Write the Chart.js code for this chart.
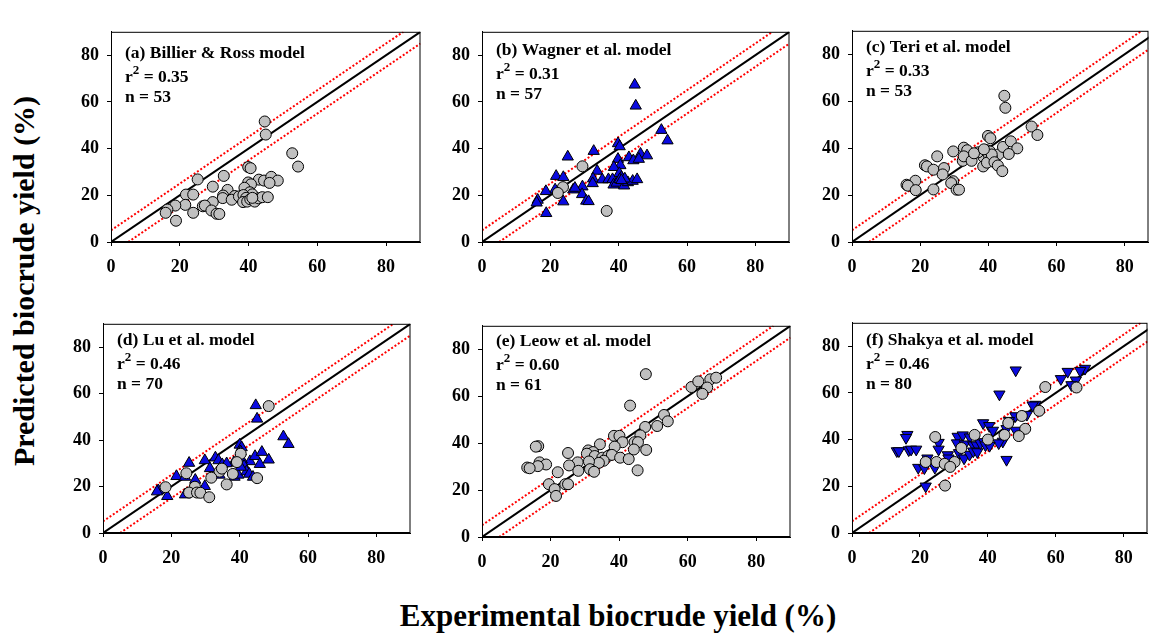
<!DOCTYPE html>
<html>
<head>
<meta charset="utf-8">
<script src="https://cdn.jsdelivr.net/npm/chart.js@4"></script>
<style>
  html, body { margin: 0; padding: 0; background: #fff; overflow: hidden; }
  body { width: 1152px; height: 637px; position: relative; font-family: "Liberation Serif", serif; }
  canvas { position: absolute; }
  .axtitle { position: absolute; font: bold 30px "Liberation Serif", serif; color: #000; white-space: nowrap; }
  #ytitle { left: 24px; top: 281px; transform: translate(-50%, -50%) rotate(-90deg); }
  #xtitle { left: 618px; top: 616px; transform: translate(-50%, -50%); font-size: 31px; }
</style>
</head>
<body>
<div id="ytitle" class="axtitle">Predicted biocrude yield (%)</div>
<div id="xtitle" class="axtitle">Experimental biocrude yield (%)</div>

<script>
// --- DATA ---
const panelTitles = ['(a) Billier & Ross model', '(b) Wagner et al. model', '(c) Teri et al. model',
                     '(d) Lu et al. model', '(e) Leow et al. model', '(f) Shakya et al. model'];
const panelR2 = ['0.35', '0.31', '0.33', '0.46', '0.60', '0.46'];
const panelN = ['53', '57', '53', '70', '61', '80'];
const tickValues = [0, 20, 40, 60, 80];

// reference lines: 1:1 and +/-5 %
const lineOneToOne = [[0, 0], [90, 90]];
const lineUpper = [[0, 5], [85, 90]];
const lineLower = [[5, 0], [90, 85]];

const billierCircles = [[44.7,51.6],[45.0,46.0],[52.7,38.0],[54.4,32.3],[39.9,32.1],[40.6,31.6],[25.2,26.8],[32.8,28.3],
  [43.0,26.7],[44.5,26.3],[46.6,27.9],[48.5,26.3],[46.1,25.3],[39.9,25.5],[40.7,24.7],[29.6,23.7],[33.9,22.3],[38.8,23.2],
  [40.4,21.3],[41.1,20.4],[21.8,20.3],[23.9,20.3],[32.6,19.9],[32.5,18.8],[36.0,19.7],[35.1,18.1],[37.2,19.5],[38.5,20.1],
  [39.3,18.9],[38.4,17.1],[39.6,17.3],[40.5,18.3],[41.8,17.3],[42.9,18.7],[44.0,19.2],[45.6,19.2],[29.6,17.1],[21.6,15.9],
  [18.7,15.6],[26.7,15.3],[27.3,15.6],[16.4,13.9],[15.9,12.5],[23.9,12.5],[29.2,13.5],[30.7,12.1],[31.5,12.0],[18.9,9.1],[41.1,18.9]];

const wagnerTriangles = [[44.7,67.3],[45.0,58.3],[52.5,47.9],[54.3,43.4],[39.8,42.2],[40.3,40.9],[25.1,36.5],[32.7,38.9],
  [43.0,36.2],[44.3,34.9],[46.4,37.7],[48.3,37.0],[45.9,35.5],[39.8,35.5],[40.5,32.8],[29.4,23.7],[33.7,30.4],[38.6,32.0],
  [40.2,29.4],[40.8,27.7],[21.7,28.2],[23.8,27.7],[32.5,27.1],[32.4,25.1],[35.2,26.7],[37.0,26.8],[38.2,26.8],[38.5,24.5],
  [39.4,25.3],[40.3,26.8],[41.6,24.1],[42.7,25.5],[44.1,26.1],[45.4,26.8],[41.8,27.1],[40.8,26.4],[29.3,20.4],[21.4,22.4],
  [18.7,21.7],[26.7,22.4],[27.2,23.1],[16.3,18.0],[16.0,16.8],[23.8,17.3],[30.5,17.6],[31.2,17.4],[18.8,12.3]];
const wagnerCircles = [[29.4,32.4],[23.7,23.5],[22.2,21.0],[36.5,13.3]];

const teriCircles = [[44.7,62.3],[45.0,57.2],[52.7,49.2],[54.4,45.6],[39.9,45.2],[40.6,44.2],[25.0,36.5],[32.8,40.2],
  [43.0,37.3],[44.3,40.5],[46.6,42.9],[48.5,39.9],[46.0,37.5],[39.6,39.1],[40.5,38.6],[29.7,38.6],[33.8,39.1],[38.6,36.2],
  [40.2,36.9],[41.0,36.2],[21.4,32.7],[22.0,32.2],[23.9,30.8],[32.5,34.6],[32.8,36.5],[35.1,34.6],[37.0,38.2],[35.8,37.8],
  [38.5,32.2],[39.6,33.8],[41.0,37.3],[41.8,34.0],[42.8,32.6],[44.1,30.2],[38.7,39.5],[27.0,31.5],[26.6,28.8],[29.7,25.9],
  [29.1,25.1],[23.9,22.4],[18.6,26.1],[16.0,24.4],[16.4,24.0],[18.7,22.1],[30.7,22.3],[31.4,22.3]];

const luTriangles = [[44.7,54.9],[45.1,49.1],[52.8,41.5],[54.3,38.2],[40.0,37.9],[40.6,36.8],[25.2,30.1],[32.9,32.4],
  [43.0,30.8],[44.5,33.0],[46.5,34.8],[48.5,31.5],[45.9,29.6],[40.3,35.0],[29.8,31.2],[33.8,31.2],[38.3,30.3],[40.6,31.6],
  [41.3,28.8],[21.5,24.4],[24.0,24.1],[31.3,27.8],[34.1,25.0],[34.9,29.5],[36.2,29.9],[38.5,24.1],[39.6,25.0],[42.0,26.4],
  [42.8,25.4],[43.9,24.1],[27.0,22.8],[29.8,20.1],[16.2,18.3],[15.8,17.8],[18.8,15.8],[24.0,16.5],[40.3,28.4]];
const luCircles = [[48.5,54.6],[40.3,34.1],[39.2,30.5],[24.4,25.7],[34.1,26.4],[34.8,27.7],[38.0,25.4],[31.7,23.8],
  [45.1,23.6],[36.2,20.9],[18.3,19.7],[26.9,19.9],[25.2,17.4],[27.5,17.4],[28.5,17.3],[31.1,15.4]];

const leowCircles = [[47.8,69.4],[61.1,63.9],[63.1,66.3],[66.6,67.2],[68.3,67.9],[65.7,63.7],[64.3,61.0],[43.2,56.0],
  [53.1,52.0],[54.2,49.3],[51.1,47.3],[47.6,46.9],[46.2,43.3],[38.5,43.1],[40.1,43.1],[41.0,40.4],[44.5,40.4],[45.5,40.4],
  [44.3,37.3],[47.9,37.1],[38.7,38.5],[34.4,39.5],[31.0,36.9],[32.4,36.2],[30.6,35.5],[25.1,35.8],[16.4,38.7],[15.7,38.5],
  [32.9,34.5],[35.1,33.8],[36.8,34.5],[37.9,35.0],[40.3,33.8],[42.8,33.2],[35.5,32.5],[34.1,31.6],[31.2,32.2],[27.9,31.8],
  [25.4,30.5],[16.8,31.8],[18.7,30.9],[16.3,30.2],[13.2,29.6],[13.9,29.3],[31.5,28.9],[28.1,28.2],[32.7,27.8],[22.1,27.6],
  [45.4,28.4],[19.5,22.5],[24.3,22.5],[25.1,22.5],[21.2,20.4],[21.6,17.5]];

const shakyaTriangles = [[48.2,69.7],[68.6,70.4],[67.2,69.5],[63.5,69.1],[61.5,66.0],[65.9,65.4],[64.6,63.4],[43.4,59.4],
  [54.0,55.0],[53.2,54.7],[51.5,50.7],[48.1,50.1],[38.6,47.1],[40.4,45.9],[41.5,43.9],[46.2,48.1],[45.5,44.6],[48.2,43.9],
  [44.4,39.2],[43.2,38.5],[45.5,31.4],[16.3,42.1],[15.9,40.8],[13.2,35.1],[13.8,35.1],[16.7,35.5],[17.4,35.8],[18.9,35.8],
  [25.5,38.7],[25.5,35.8],[19.5,28.0],[21.3,27.8],[24.4,28.0],[21.7,20.0],[22.2,32.0],[28.2,33.4],[28.4,32.0],[31.1,41.3],
  [32.6,41.9],[30.9,38.5],[31.5,34.3],[33.0,32.0],[34.6,33.6],[34.7,41.0],[33.2,38.0],[35.7,37.6],[36.7,37.6],[35.7,35.0],
  [36.9,34.7],[37.8,38.5],[38.9,39.0],[39.3,37.6],[40.5,37.4]];
const shakyaCircles = [[56.9,62.5],[66.1,62.3],[55.1,52.3],[50.0,50.1],[46.0,47.1],[51.0,44.6],[44.9,42.0],[49.1,41.5],
  [36.1,42.0],[24.5,41.1],[40.0,40.0],[32.2,36.4],[21.7,30.4],[24.9,30.4],[27.3,29.6],[30.2,30.4],[28.9,28.3],[27.4,20.3]];

// --- LAYOUT (plot-area rectangles in page px) ---
const panels = [
  { area: [111, 17, 423, 242], xMax: 90, circles: billierCircles, tris: null, titleDy: 22 },
  { area: [482, 17, 793, 242], xMax: 90, circles: wagnerCircles, tris: wagnerTriangles, titleDy: 19 },
  { area: [852, 16, 1151, 242], xMax: 87, circles: teriCircles, tris: null, titleDy: 17 },
  { area: [103, 309, 414, 533], xMax: 90, circles: luCircles, tris: luTriangles, titleDy: 17 },
  { area: [482, 311, 793, 537], xMax: 90, circles: leowCircles, tris: null, titleDy: 16 },
  { area: [852, 308, 1151, 533], xMax: 87, circles: shakyaCircles, tris: shakyaTriangles, down: true, titleDy: 18 }
];

const Y_AXIS_W = 50, X_AXIS_H = 42, PAD = 4;
const tickFont = { family: 'Liberation Serif', size: 18, weight: 'bold' };

const frameAndText = {
  id: 'frameAndText',
  afterDraw(chart, args, opts) {
    const { ctx, chartArea: a } = chart;
    ctx.save();
    ctx.strokeStyle = '#000';
    ctx.lineWidth = 1;
    ctx.strokeRect(a.left + 0.5, a.top + 0.5, a.right - a.left - 1, a.bottom - a.top - 1);
    ctx.fillStyle = '#000';
    ctx.textBaseline = 'middle';
    const x = a.left + 14;
    let y = a.top + opts.dy;
    ctx.font = 'bold 17.5px "Liberation Serif"';
    ctx.fillText(opts.title, x, y);
    y += 24;
    ctx.fillText('r', x, y);
    let w = ctx.measureText('r').width;
    ctx.font = 'bold 13px "Liberation Serif"';
    ctx.fillText('2', x + w, y - 7);
    w += ctx.measureText('2').width;
    ctx.font = 'bold 17.5px "Liberation Serif"';
    ctx.fillText(' = ' + opts.r2, x + w, y);
    y += 20;
    ctx.fillText('n = ' + opts.n, x, y);
    ctx.restore();
  }
};

function toPts(arr) { return arr.map(p => ({ x: p[0], y: p[1] })); }

function lineSet(pts, color, dashed) {
  return {
    data: toPts(pts), showLine: true, pointRadius: 0, borderColor: color,
    borderWidth: 2, borderDash: dashed ? [2, 2] : [], order: 3
  };
}

panels.forEach((p, i) => {
  const [l, t, r, b] = p.area;
  const cv = document.createElement('canvas');
  cv.width = (r - l) + Y_AXIS_W + PAD;
  cv.height = (b - t) + X_AXIS_H + PAD;
  cv.style.left = (l - Y_AXIS_W) + 'px';
  cv.style.top = (t - PAD) + 'px';
  document.body.appendChild(cv);

  const datasets = [];
  if (p.tris) {
    datasets.push({
      data: toPts(p.tris), pointStyle: 'triangle', pointRotation: p.down ? 180 : 0,
      pointRadius: 6.5, backgroundColor: '#0a0ae0', borderColor: '#000', borderWidth: 1, order: 2
    });
  }
  datasets.push({
    data: toPts(p.circles), pointStyle: 'circle', pointRadius: 5.5,
    backgroundColor: '#c0c0c0', borderColor: '#000', borderWidth: 1, order: 1
  });
  datasets.push(lineSet(lineUpper, '#ff0000', true));
  datasets.push(lineSet(lineLower, '#ff0000', true));
  datasets.push(lineSet(lineOneToOne, '#000000', false));

  const axis = (max, isY) => ({
    type: 'linear', min: 0, max: max,
    afterBuildTicks: s => { s.ticks = tickValues.map(v => ({ value: v })); },
    afterFit: s => { if (isY) s.width = Y_AXIS_W; else s.height = X_AXIS_H; },
    grid: { drawOnChartArea: false, drawTicks: true, tickLength: 4, color: '#000' },
    border: { display: true, color: '#000', width: 1 },
    ticks: { font: tickFont, color: '#000', padding: isY ? 8 : 11, autoSkip: false, maxRotation: 0 }
  });

  new Chart(cv, {
    type: 'scatter',
    data: { datasets: datasets },
    options: {
      responsive: false, animation: false,
      layout: { padding: { top: PAD, right: PAD, left: 0, bottom: 0 } },
      scales: { x: axis(p.xMax, false), y: axis(90, true) },
      plugins: {
        legend: { display: false }, tooltip: { enabled: false },
        frameAndText: { title: panelTitles[i], r2: panelR2[i], n: panelN[i], dy: p.titleDy }
      }
    },
    plugins: [frameAndText]
  });
});
</script>
</body>
</html>
